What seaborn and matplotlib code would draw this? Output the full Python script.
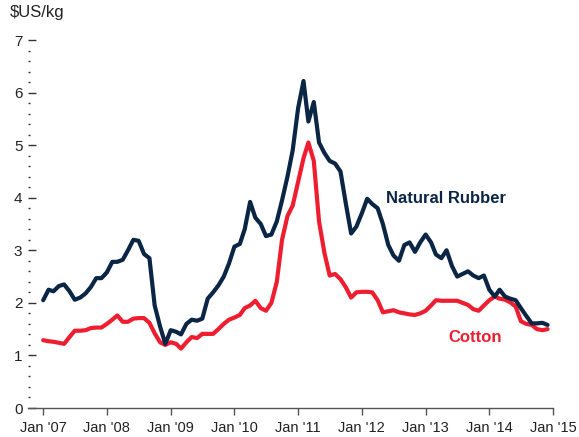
import numpy as np
import pandas as pd
import matplotlib
matplotlib.use("Agg")
import matplotlib.pyplot as plt
import seaborn as sns

# Monthly prices, Jan 2007 - Dec 2014, $US/kg
months = pd.date_range("2007-01-01", periods=96, freq="MS")

rubber = [
    2.05, 2.25, 2.22, 2.32, 2.35, 2.22, 2.06, 2.10, 2.18, 2.30, 2.47, 2.47,
    2.58, 2.78, 2.78, 2.82, 3.00, 3.20, 3.18, 2.93, 2.85, 1.95, 1.55, 1.22,
    1.48, 1.45, 1.40, 1.60, 1.68, 1.66, 1.70, 2.08, 2.20, 2.33, 2.50, 2.75,
    3.07, 3.12, 3.40, 3.92, 3.62, 3.50, 3.27, 3.30, 3.55, 3.95, 4.40, 4.90,
    5.70, 6.22, 5.45, 5.82, 5.05, 4.85, 4.70, 4.65, 4.50, 3.90, 3.32, 3.45,
    3.70, 3.98, 3.88, 3.80, 3.50, 3.10, 2.90, 2.80, 3.10, 3.15, 2.97, 3.15,
    3.30, 3.15, 2.92, 2.85, 3.00, 2.70, 2.50, 2.55, 2.60, 2.52, 2.47, 2.52,
    2.25, 2.12, 2.25, 2.12, 2.08, 2.05, 1.90, 1.75, 1.61, 1.61, 1.62, 1.58,
]

cotton = [
    1.29, 1.27, 1.26, 1.24, 1.22, 1.35, 1.47, 1.47, 1.48, 1.52, 1.53, 1.53,
    1.60, 1.68, 1.76, 1.64, 1.64, 1.70, 1.71, 1.71, 1.62, 1.42, 1.25, 1.20,
    1.25, 1.22, 1.13, 1.25, 1.35, 1.33, 1.41, 1.41, 1.41, 1.50, 1.60, 1.68,
    1.72, 1.77, 1.90, 1.95, 2.04, 1.90, 1.85, 2.00, 2.40, 3.20, 3.65, 3.85,
    4.30, 4.75, 5.05, 4.70, 3.55, 2.95, 2.52, 2.55, 2.45, 2.30, 2.10, 2.20,
    2.21, 2.21, 2.20, 2.05, 1.82, 1.84, 1.86, 1.82, 1.80, 1.78, 1.77, 1.80,
    1.85, 1.95, 2.05, 2.04, 2.04, 2.04, 2.04, 2.00, 1.96, 1.88, 1.85, 1.95,
    2.05, 2.12, 2.08, 2.06, 2.01, 1.93, 1.65, 1.60, 1.58, 1.50, 1.48, 1.50,
]

tick_years = list(range(2007, 2016))
tick_labels = ["Jan '%02d" % (y % 100) for y in tick_years]

RUBBER_C = "#0b2545"
COTTON_C = "#ee1d2f"

sns.set_style("white")
plt.rcParams["font.family"] = ["Liberation Sans", "DejaVu Sans"]

df = pd.DataFrame({"date": list(months) * 2,
                   "price": rubber + cotton,
                   "series": ["Natural Rubber"] * 96 + ["Cotton"] * 96})

fig = plt.figure(figsize=(5.79, 4.37), dpi=100)
ax = fig.add_axes([28 / 579, 1 - 408 / 437, (553 - 28) / 579, (408 - 40) / 437])

sns.lineplot(data=df, x="date", y="price", hue="series",
             palette={"Natural Rubber": RUBBER_C, "Cotton": COTTON_C},
             hue_order=["Cotton", "Natural Rubber"],
             linewidth=3.0, legend=False, ax=ax)

ax.set_xlim(pd.Timestamp("2006-10-06"), pd.Timestamp("2015-01-01"))
ax.set_ylim(0, 7)

ax.set_xticks([pd.Timestamp(f"{y}-01-01") for y in tick_years])
ax.set_xticklabels(tick_labels)
ax.set_yticks(range(0, 8))
ax.set_yticks(np.arange(0, 7.01, 0.2), minor=True)

for s in ["top", "right", "left"]:
    ax.spines[s].set_visible(False)
ax.spines["bottom"].set_color("#555555")
ax.spines["bottom"].set_linewidth(1.0)

ax.tick_params(axis="x", which="major", bottom=True, direction="out",
               length=5, width=1, color="#555555", labelsize=10.5,
               labelcolor="#222222", pad=4)
ax.tick_params(axis="x", which="minor", bottom=False)
ax.tick_params(axis="y", which="major", left=True, direction="in", length=6,
               width=1, color="#333333", labelsize=11, labelcolor="#222222",
               pad=4)
ax.tick_params(axis="y", which="minor", left=True, direction="in",
               length=1.5, width=1, color="#333333")

ax.set_xlabel("")
ax.set_ylabel("")
ax.grid(False)

fig.text(10 / 579, 1 - 12 / 437, "$US/kg", fontsize=12, color="#222222",
         ha="left", va="center")

ax.text(pd.Timestamp("2012-05-18"), 3.98, "Natural Rubber", color=RUBBER_C,
        fontsize=12, fontweight="bold", ha="left", va="center")
ax.text(pd.Timestamp("2013-10-12"), 1.35, "Cotton", color=COTTON_C,
        fontsize=12, fontweight="bold", ha="center", va="center")

fig.savefig("out.png", dpi=100)
